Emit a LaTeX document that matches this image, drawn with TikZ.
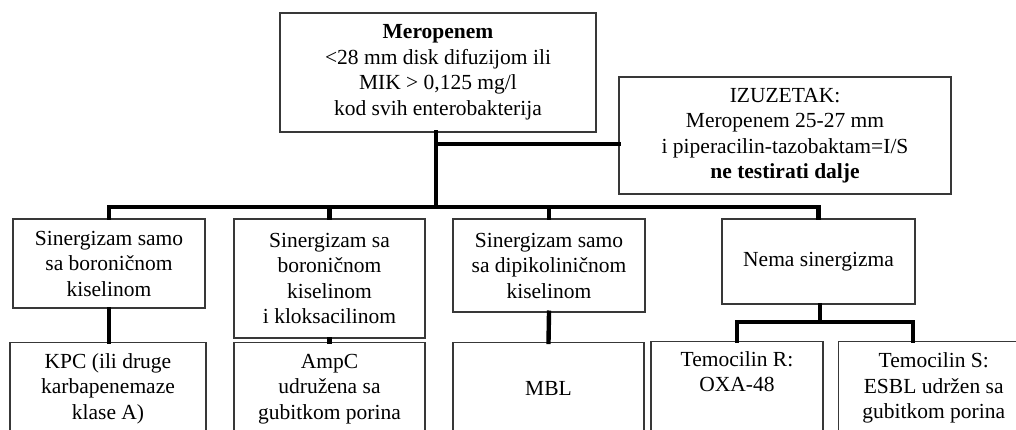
\documentclass[tikz,border=0pt]{standalone}
\usepackage{fontspec}
\setmainfont{Liberation Serif}
\usepackage{tikz}
\usetikzlibrary{positioning}

\begin{document}
\begin{tikzpicture}[x=1pt, y=-1pt,
    box/.style={draw=black!78, line width=1.4pt, fill=white, align=center, inner sep=2pt,
        font=\fontsize{21.5}{25.5}\selectfont},
    conn/.style={line width=4.4pt, black, line cap=rect}]
    \useasboundingbox (0,0) rectangle (1016,430);
    \clip (0,0) rectangle (1016,430);

    % Top level
    \node[box, minimum width=316pt, minimum height=119pt] (mero) at (438,72.5)
        {\textbf{Meropenem}\\<28 mm disk difuzijom ili\\MIK > 0,125 mg/l\\kod svih enterobakterija};
    \node[box, minimum width=332pt, minimum height=117pt] (izuzetak) at (785,135.5)
        {IZUZETAK:\\Meropenem 25-27 mm\\i piperacilin-tazobaktam=I/S\\\textbf{ne testirati dalje}};

    % Synergy tests
    \node[box, minimum width=192pt, minimum height=89pt] (boron) at (109,263.5)
        {Sinergizam samo\\sa boroničnom\\kiselinom};
    \node[box, minimum width=191pt, minimum height=119pt] (kloks) at (329.5,278.5)
        {Sinergizam sa\\boroničnom\\kiselinom\\i kloksacilinom};
    \node[box, minimum width=192pt, minimum height=93pt] (dipik) at (549,265.5)
        {Sinergizam samo\\sa dipikoliničnom\\kiselinom};
    \node[box, minimum width=193pt, minimum height=85pt] (nema) at (818.5,261.5)
        {Nema sinergizma};

    % Results (cut at the bottom edge)
    \node[box, minimum width=196pt, minimum height=92pt, anchor=north] (kpc) at (108,342)
        {KPC (ili druge\\karbapenemaze\\klase A)};
    \node[box, minimum width=191pt, minimum height=92pt, anchor=north] (ampc) at (329.5,342)
        {AmpC\\udružena sa\\gubitkom porina};
    \node[box, minimum width=191pt, minimum height=92pt, anchor=north] (mbl) at (548.5,342)
        {MBL};
    \node[box, minimum width=172pt, minimum height=93pt, anchor=north] (oxa) at (737,341)
        {Temocilin R:\\OXA-48\\\strut};
    \node[box, minimum width=190pt, minimum height=93pt, anchor=north west] (esbl) at (838,341)
        {Temocilin S:\\ESBL udržen sa\\gubitkom porina};

    % Connectors
    \coordinate (bar) at (436,207);
    \coordinate (split) at (436,144);
    \coordinate (fork) at (820,322);
    \coordinate (forkR) at (913,341);
    \draw[conn] (mero.south -| bar) -- (bar);
    \draw[conn] (split) -- (split -| izuzetak.west);
    \draw[conn] (boron.north) |- (bar) -| (nema.north);
    \draw[conn] (kloks.north) -- (kloks.north |- bar);
    \draw[conn] (dipik.north) -- (dipik.north |- bar);
    \draw[conn] (boron.south) -- (kpc.north -| boron.south);
    \draw[conn] (kloks.south) -- (ampc.north);
    \draw[conn] (dipik.south) -- (mbl.north);
    \draw[conn] (nema.south -| fork) -- (fork);
    \draw[conn] (oxa.north) |- (fork) -| (forkR);
\end{tikzpicture}
\end{document}
